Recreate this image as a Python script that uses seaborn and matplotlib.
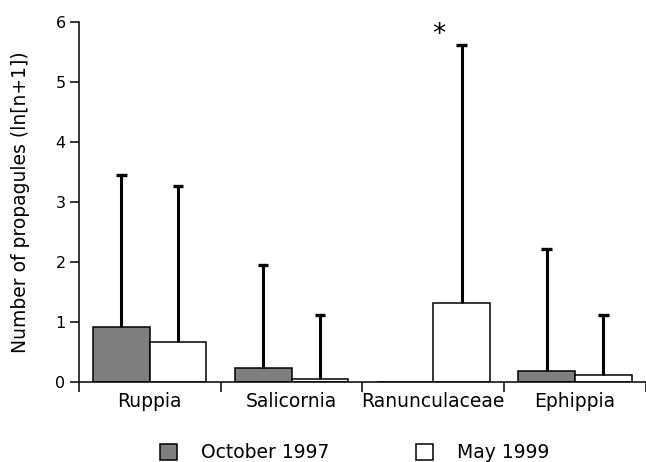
import pandas as pd
import seaborn as sns
import matplotlib.pyplot as plt
from matplotlib.patches import Patch

# data
taxa = ["Ruppia", "Salicornia", "Ranunculaceae", "Ephippia"]
oct_1997 = [0.92, 0.23, 0.0, 0.18]
may_1999 = [0.66, 0.05, 1.32, 0.12]
oct_1997_top = [3.45, 1.96, 0.0, 2.22]
may_1999_top = [3.27, 1.12, 5.62, 1.12]
periods = ["October 1997", "May 1999"]

df = pd.DataFrame({
    "taxon": taxa * 2,
    "period": [periods[0]] * 4 + [periods[1]] * 4,
    "value": oct_1997 + may_1999,
})

sns.set_style("ticks", {"axes.edgecolor": "black", "text.color": "black",
                        "xtick.color": "black", "ytick.color": "black",
                        "axes.labelcolor": "black"})
plt.rcParams["font.family"] = ["DejaVu Sans"]

fig = plt.figure(figsize=(6.46, 4.62), dpi=100)
ax = fig.add_axes([0.122, 0.173, 0.878, 0.779])

colors = {"October 1997": "#7f7f7f", "May 1999": "white"}
sns.barplot(data=df, x="taxon", y="value", hue="period", order=taxa,
            hue_order=periods, palette=colors, edgecolor="black",
            linewidth=1.1, width=0.8, errorbar=None, legend=False, ax=ax)

# upper-only error bars with a cap
tops = [oct_1997_top, may_1999_top]
vals = [oct_1997, may_1999]
for cont, top, val in zip(ax.containers, tops, vals):
    xs = [b.get_x() + b.get_width() / 2 for b in cont]
    for x, t, v in zip(xs, top, val):
        if t > v:
            ax.vlines(x, v, t, color="black", linewidth=2.2, zorder=1)
            ax.hlines(t, x - 0.037, x + 0.037, color="black", linewidth=2.4)

ax.text(2.04, 5.79, "*", ha="center", va="center", fontsize=19)

ax.set_ylim(0, 6)
ax.set_xlim(-0.5, 3.5)
ax.set_yticks(range(0, 7))
ax.set_xticks([-0.5, 0.5, 1.5, 2.5, 3.5], minor=True)
ax.set_xticks(range(4))
ax.set_xticklabels(taxa, fontsize=13.5)
ax.tick_params(axis="x", which="major", length=0, pad=7)
ax.tick_params(axis="x", which="minor", length=7, width=1.1, direction="out")
ax.tick_params(axis="y", labelsize=11.5, length=6.5, width=1.1, direction="out", pad=3)
ax.set_xlabel("")
ax.set_ylabel("Number of propagules (ln[n+1])", fontsize=13.5, labelpad=18)
for s in ["top", "right"]:
    ax.spines[s].set_visible(False)
for s in ["left", "bottom"]:
    ax.spines[s].set_linewidth(1.1)

handles = [Patch(facecolor=colors[p], edgecolor="black", linewidth=1.1) for p in periods]
fig.legend(handles, periods, loc="center left", bbox_to_anchor=(160 / 646, 1 - 453 / 462),
           ncol=2, frameon=False, fontsize=13.5, handlelength=0.9, handleheight=0.9,
           columnspacing=4.6, handletextpad=1.3, borderpad=0, borderaxespad=0)

plt.savefig("out.png", dpi=100)
